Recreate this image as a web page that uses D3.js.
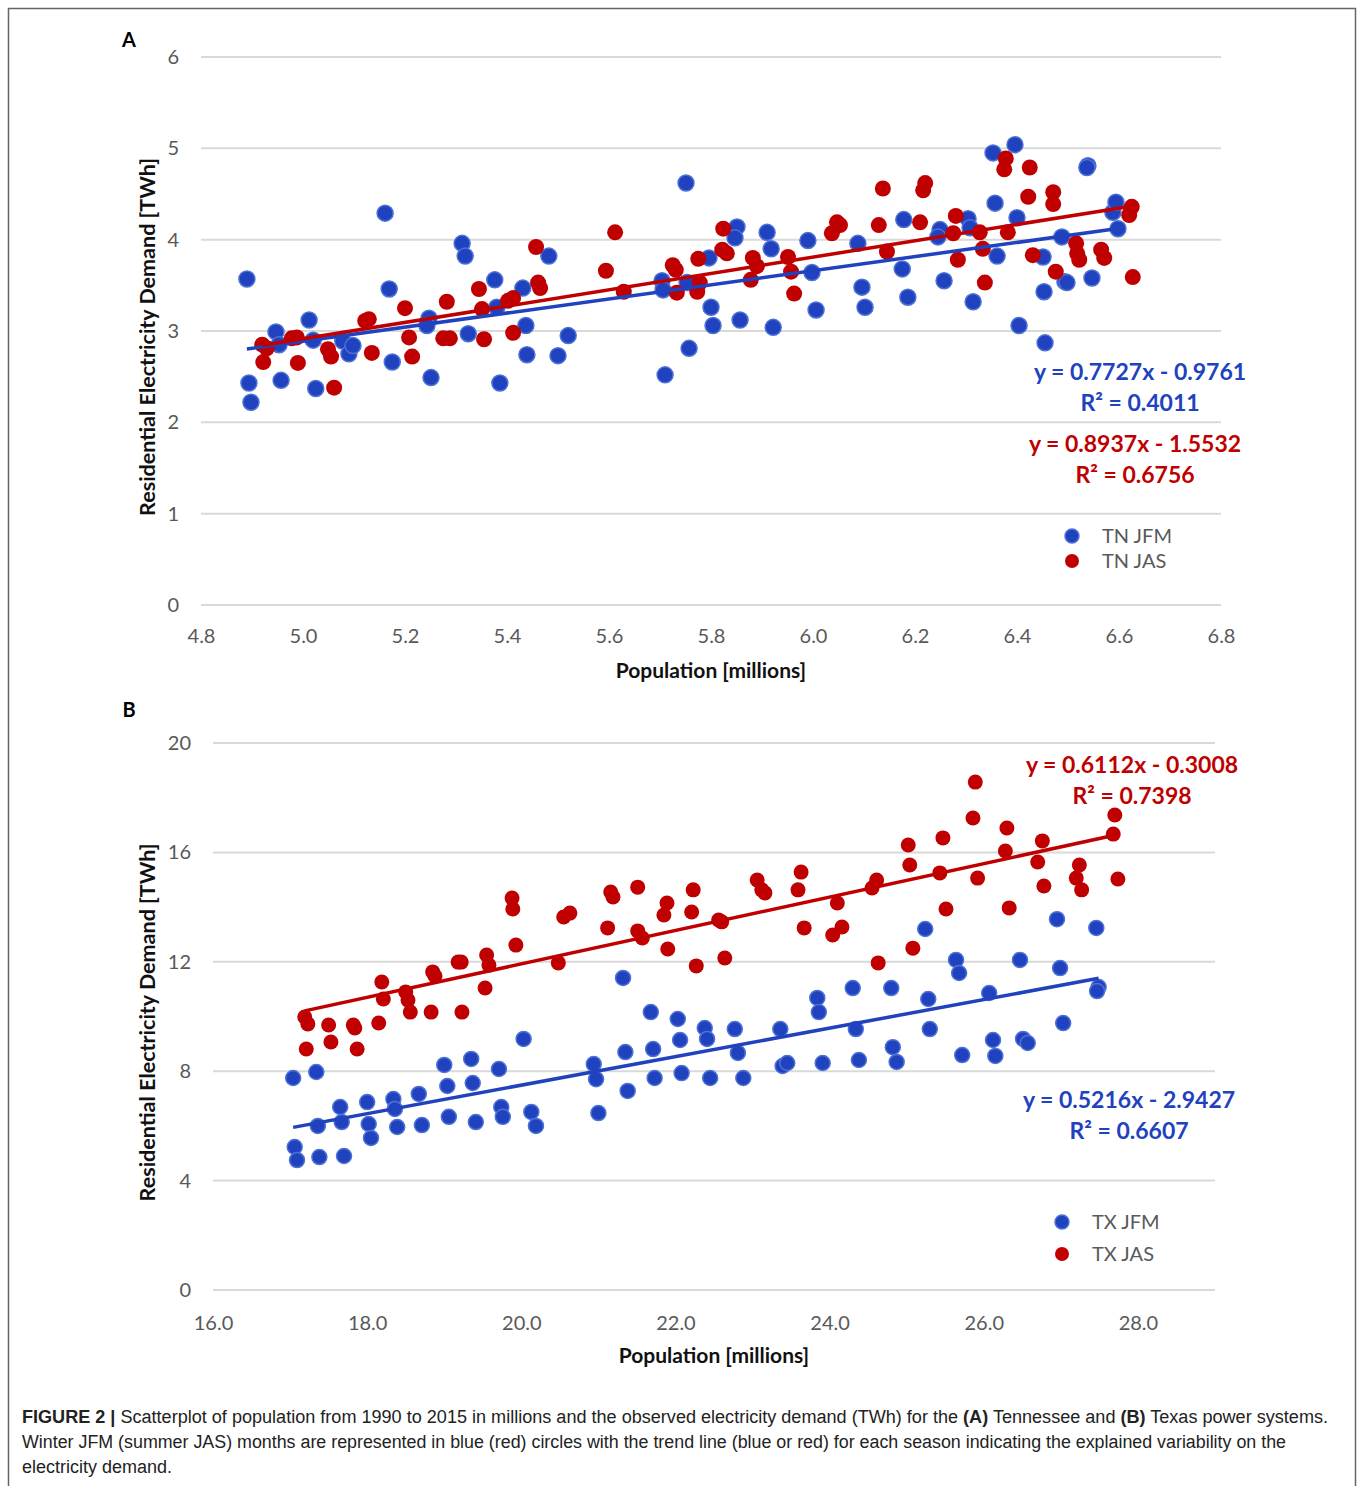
<!DOCTYPE html>
<html>
<head>
<meta charset="utf-8">
<script src="https://cdn.jsdelivr.net/npm/d3@7"></script>
<style>
  body { margin: 0; background: #fff; }
  svg text { font-family: Lato, "Open Sans", sans-serif; }
</style>
</head>
<body>
<svg id="fig" width="1360" height="1486"></svg>
<script>
// Panel A - Tennessee, population (millions) vs demand (TWh)
var tnJfmX = [4.890,4.894,4.898,4.947,4.953,4.957,5.012,5.020,5.025,5.078,5.090,5.098,5.161,5.169,5.175,5.247,5.243,5.251,5.312,5.318,5.324,5.376,5.380,5.386,5.431,5.437,5.439,5.482,5.500,5.520,5.704,5.706,5.710,5.751,5.753,5.757,5.796,5.800,5.804,5.851,5.847,5.857,5.910,5.918,5.922,5.990,5.998,6.006,6.088,6.096,6.102,6.178,6.175,6.186,6.249,6.245,6.257,6.304,6.308,6.314,6.353,6.357,6.361,6.396,6.400,6.404,6.451,6.453,6.455,6.488,6.494,6.498,6.547,6.539,6.537,6.588,6.594,6.598];
var tnJfmY = [3.57,2.43,2.22,2.99,2.85,2.46,3.12,2.90,2.37,2.89,2.75,2.84,4.29,3.46,2.66,3.14,3.06,2.49,3.96,3.82,2.97,3.56,3.26,2.43,3.47,3.06,2.74,3.82,2.73,2.95,3.55,3.45,2.52,4.62,3.53,2.81,3.80,3.26,3.06,4.14,4.02,3.12,4.08,3.90,3.04,3.99,3.64,3.23,3.96,3.48,3.26,4.22,3.68,3.37,4.11,4.03,3.55,4.23,4.13,3.32,4.95,4.40,3.82,5.04,4.24,3.06,3.81,3.43,2.87,4.03,3.54,3.53,3.58,4.81,4.79,4.30,4.41,4.12];
var tnJasX = [4.920,4.929,4.922,4.978,4.988,4.990,5.049,5.055,5.061,5.122,5.129,5.135,5.200,5.208,5.214,5.275,5.288,5.282,5.345,5.351,5.355,5.402,5.412,5.412,5.457,5.461,5.465,5.594,5.612,5.629,5.725,5.731,5.733,5.775,5.778,5.773,5.824,5.822,5.831,5.878,5.882,5.890,5.951,5.957,5.963,6.047,6.053,6.037,6.129,6.137,6.145,6.220,6.216,6.210,6.280,6.275,6.284,6.327,6.333,6.337,6.378,6.375,6.425,6.422,6.382,6.431,6.471,6.471,6.476,6.516,6.518,6.522,6.565,6.571,6.625,6.620,6.627];
var tnJasY = [2.85,2.81,2.66,2.92,2.93,2.65,2.80,2.72,2.38,3.11,3.13,2.76,3.25,2.93,2.72,2.92,2.92,3.32,3.46,3.24,2.91,3.33,3.36,2.98,3.92,3.53,3.47,3.66,4.08,3.43,3.72,3.67,3.42,3.79,3.53,3.43,4.12,3.89,3.85,3.56,3.80,3.71,3.81,3.65,3.41,4.19,4.16,4.07,4.16,4.56,3.87,4.62,4.54,4.19,4.26,4.07,3.78,4.08,3.90,3.53,4.89,4.77,4.79,4.47,4.08,3.83,4.52,4.39,3.65,3.96,3.85,3.78,3.89,3.80,4.36,4.27,3.59];

// Panel B - Texas
var txJfmX = [17.04,17.34,17.06,17.09,17.38,17.70,17.36,17.65,17.67,18.00,18.02,18.05,18.34,18.36,18.39,18.67,18.71,19.00,19.04,19.06,19.35,19.37,19.41,19.71,19.74,19.76,20.03,20.13,20.19,20.94,20.97,21.00,21.32,21.35,21.38,21.68,21.71,21.73,22.03,22.06,22.08,22.38,22.41,22.45,22.77,22.81,22.88,23.36,23.39,23.45,23.84,23.86,23.91,24.30,24.34,24.38,24.80,24.82,24.87,25.24,25.28,25.30,25.64,25.68,25.72,26.07,26.12,26.15,26.47,26.51,26.57,26.95,26.99,27.03,27.46,27.49,27.47];
var txJfmY = [7.75,7.97,5.23,4.75,4.86,4.90,6.00,6.69,6.14,6.87,6.07,5.56,6.98,6.62,5.96,7.17,6.03,8.23,7.46,6.33,8.45,7.57,6.14,8.08,6.69,6.33,9.18,6.51,6.00,8.26,7.71,6.47,11.41,8.70,7.28,10.16,8.81,7.75,9.91,9.14,7.93,9.58,9.18,7.75,9.54,8.67,7.75,9.54,8.19,8.30,10.68,10.16,8.30,11.04,9.54,8.41,11.04,8.88,8.34,13.20,10.64,9.54,12.07,11.59,8.59,10.86,9.14,8.56,12.07,9.18,9.03,13.56,11.77,9.76,13.24,11.08,10.93];
var txJasX = [17.19,17.23,17.21,17.50,17.53,17.82,17.84,17.87,18.15,18.19,18.21,18.50,18.53,18.56,18.83,18.85,18.88,19.18,19.22,19.23,19.55,19.58,19.53,19.88,19.89,19.93,20.48,20.55,20.63,21.16,21.19,21.12,21.51,21.51,21.57,21.89,21.85,21.90,22.23,22.21,22.27,22.60,22.64,23.06,23.12,23.16,23.63,23.59,23.67,24.10,24.04,24.16,24.61,24.55,24.63,25.02,25.04,25.08,25.47,25.43,25.51,25.89,25.86,25.92,26.30,26.28,26.33,26.76,26.70,26.78,27.24,27.20,27.27,27.70,27.68,27.74,22.56];
var txJasY = [9.98,9.73,8.81,9.69,9.07,9.69,9.58,8.81,9.76,11.26,10.64,10.90,10.60,10.16,10.16,11.63,11.48,11.99,11.99,10.16,12.25,11.88,11.04,14.33,13.93,12.61,11.96,13.64,13.78,14.55,14.37,13.24,14.73,13.13,12.87,14.15,13.71,12.47,14.63,13.82,11.85,13.46,12.14,14.99,14.63,14.52,15.28,14.63,13.24,14.15,12.98,13.27,14.99,14.70,11.96,16.27,15.54,12.50,16.53,15.25,13.93,18.57,17.26,15.06,16.89,16.05,13.97,16.42,15.65,14.77,15.54,15.06,14.63,17.37,16.67,15.03,13.53];

// trend line coefficients [slope, intercept, R2]
var tnJfmFit = [0.7727, -0.9761, 0.4011];
var tnJasFit = [0.8937, -1.5532, 0.6756];
var txJfmFit = [0.5216, -2.9427, 0.6607];
var txJasFit = [0.6112, -0.3008, 0.7398];

var tnXTicks = [4.8,5.0,5.2,5.4,5.6,5.8,6.0,6.2,6.4,6.6,6.8];
var tnYTicks = [0,1,2,3,4,5,6];
var txXTicks = [16,18,20,22,24,26,28];
var txYTicks = [0,4,8,12,16,20];

var BLUE = "#2142be", BLUE_EDGE = "#4d72d6", RED = "#c00000";

var svg = d3.select("#fig");

// outer frame
svg.append("rect")
    .attr("x", 8.5).attr("y", 8.5)
    .attr("width", 1347).attr("height", 1520)
    .attr("fill", "none")
    .attr("stroke", "#666").attr("stroke-width", 1.5);

function fmtEq(f) {
    return "y = " + f[0].toFixed(4) + "x - " + Math.abs(f[1]).toFixed(4);
}

function panel(opt) {
    var x = d3.scaleLinear().domain(opt.xDomain).range([opt.left, opt.right]);
    var y = d3.scaleLinear().domain(opt.yDomain).range([opt.bottom, opt.top]);
    var g = svg.append("g");

    g.append("text")
        .attr("x", opt.letterPos[0]).attr("y", opt.letterPos[1])
        .attr("text-anchor", "middle")
        .attr("font-size", 20).attr("font-weight", "bold")
        .text(opt.letter);

    // gridlines
    g.selectAll("line.grid")
        .data(opt.yTicks)
        .enter().append("line")
        .attr("class", "grid")
        .attr("x1", opt.left).attr("x2", opt.right)
        .attr("y1", function(d) { return y(d); })
        .attr("y2", function(d) { return y(d); })
        .attr("stroke", "#d9d9d9").attr("stroke-width", 2);

    var yAxis = g.append("g")
        .attr("transform", "translate(" + opt.left + ",0)")
        .call(d3.axisLeft(y).tickValues(opt.yTicks).tickFormat(d3.format("d")).tickSize(0).tickPadding(opt.yPad));
    yAxis.select(".domain").remove();
    yAxis.selectAll("text").attr("font-size", 20).attr("fill", "#595959")
        .attr("font-family", "Lato, sans-serif");

    var xAxis = g.append("g")
        .attr("transform", "translate(0," + opt.bottom + ")")
        .call(d3.axisBottom(x).tickValues(opt.xTicks).tickFormat(d3.format(".1f")).tickSize(0).tickPadding(opt.xPad));
    xAxis.select(".domain").remove();
    xAxis.selectAll("text").attr("font-size", 20).attr("fill", "#595959")
        .attr("font-family", "Lato, sans-serif");

    g.append("text")
        .attr("x", (opt.left + opt.right) / 2).attr("y", opt.bottom + 73)
        .attr("text-anchor", "middle")
        .attr("font-size", 21).attr("font-weight", "bold").attr("fill", "#111")
        .text("Population [millions]");

    g.append("text")
        .attr("transform", "translate(" + 155 + "," + ((opt.top + opt.bottom) / 2 + 6) + ") rotate(-90)")
        .attr("text-anchor", "middle")
        .attr("font-size", 21.5).attr("font-weight", "bold").attr("fill", "#111")
        .text("Residential Electricity Demand [TWh]");

    // series: blue then red on top
    opt.series.forEach(function(s) {
        var pts = s.xs.map(function(v, i) { return [v, s.ys[i]]; });
        g.append("g").selectAll("circle")
            .data(pts)
            .enter().append("circle")
            .attr("cx", function(d) { return x(d[0]); })
            .attr("cy", function(d) { return y(d[1]); })
            .attr("r", opt.r)
            .attr("fill", s.color)
            .attr("stroke", s.edge)
            .attr("stroke-width", s.edge === "none" ? 0 : 1.5);
    });

    opt.series.forEach(function(s) {
        var x0 = d3.min(s.xs), x1 = d3.max(s.xs);
        g.append("line")
            .attr("x1", x(x0)).attr("y1", y(s.fit[0] * x0 + s.fit[1]))
            .attr("x2", x(x1)).attr("y2", y(s.fit[0] * x1 + s.fit[1]))
            .attr("stroke", s.color).attr("stroke-width", 3.5);

        g.append("text")
            .attr("x", s.eqPos[0]).attr("y", s.eqPos[1])
            .attr("text-anchor", "middle")
            .attr("font-size", 23).attr("font-weight", "bold").attr("fill", s.color)
            .text(fmtEq(s.fit));
        g.append("text")
            .attr("x", s.eqPos[0]).attr("y", s.eqPos[1] + 31)
            .attr("text-anchor", "middle")
            .attr("font-size", 23).attr("font-weight", "bold").attr("fill", s.color)
            .text("R\u00b2 = " + s.fit[2].toFixed(4));

        g.append("circle")
            .attr("cx", s.legPos[0]).attr("cy", s.legPos[1])
            .attr("r", 7).attr("fill", s.color)
            .attr("stroke", s.edge).attr("stroke-width", s.edge === "none" ? 0 : 1.5);
        g.append("text")
            .attr("x", s.legPos[0] + 30).attr("y", s.legPos[1] + 7)
            .attr("font-size", 20).attr("fill", "#595959")
            .text(s.name);
    });
}

panel({
    letter: "A", letterPos: [129, 47], left: 201, right: 1221, top: 57, bottom: 605,
    xDomain: [4.8, 6.8], yDomain: [0, 6], xTicks: tnXTicks, yTicks: tnYTicks, yPad: 22, xPad: 24, r: 8,
    series: [
        { name: "TN JFM", xs: tnJfmX, ys: tnJfmY, fit: tnJfmFit, color: BLUE, edge: BLUE_EDGE, eqPos: [1140, 380], legPos: [1072, 536] },
        { name: "TN JAS", xs: tnJasX, ys: tnJasY, fit: tnJasFit, color: RED, edge: "none", eqPos: [1135, 452], legPos: [1072, 561] }
    ]
});

panel({
    letter: "B", letterPos: [129, 717], left: 213, right: 1215, top: 743, bottom: 1290,
    xDomain: [16, 29], yDomain: [0, 20], xTicks: txXTicks, yTicks: txYTicks, yPad: 22, xPad: 26, r: 7.5,
    series: [
        { name: "TX JFM", xs: txJfmX, ys: txJfmY, fit: txJfmFit, color: BLUE, edge: BLUE_EDGE, eqPos: [1129, 1108], legPos: [1062, 1222] },
        { name: "TX JAS", xs: txJasX, ys: txJasY, fit: txJasFit, color: RED, edge: "none", eqPos: [1132, 773], legPos: [1062, 1254] }
    ]
});

// caption
var caption = svg.append("g")
    .attr("font-size", 18).attr("fill", "#222");
var lines = [
    [["FIGURE 2 | ", true], ["Scatterplot of population from 1990 to 2015 in millions and the observed electricity demand (TWh) for the ", false], ["(A)", true], [" Tennessee and ", false], ["(B)", true], [" Texas power systems.", false]],
    [["Winter JFM (summer JAS) months are represented in blue (red) circles with the trend line (blue or red) for each season indicating the explained variability on the", false]],
    [["electricity demand.", false]]
];
var lineWidths = [1306, 1264, 150];
lines.forEach(function(parts, i) {
    var t = caption.append("text")
        .attr("x", 22).attr("y", 1423 + i * 25)
        .attr("textLength", lineWidths[i])
        .attr("lengthAdjust", "spacingAndGlyphs")
        .style("font-family", "'Liberation Sans', Arial, sans-serif");
    parts.forEach(function(p) {
        t.append("tspan").attr("font-weight", p[1] ? "bold" : "normal").text(p[0]);
    });
});
</script>
</body>
</html>
